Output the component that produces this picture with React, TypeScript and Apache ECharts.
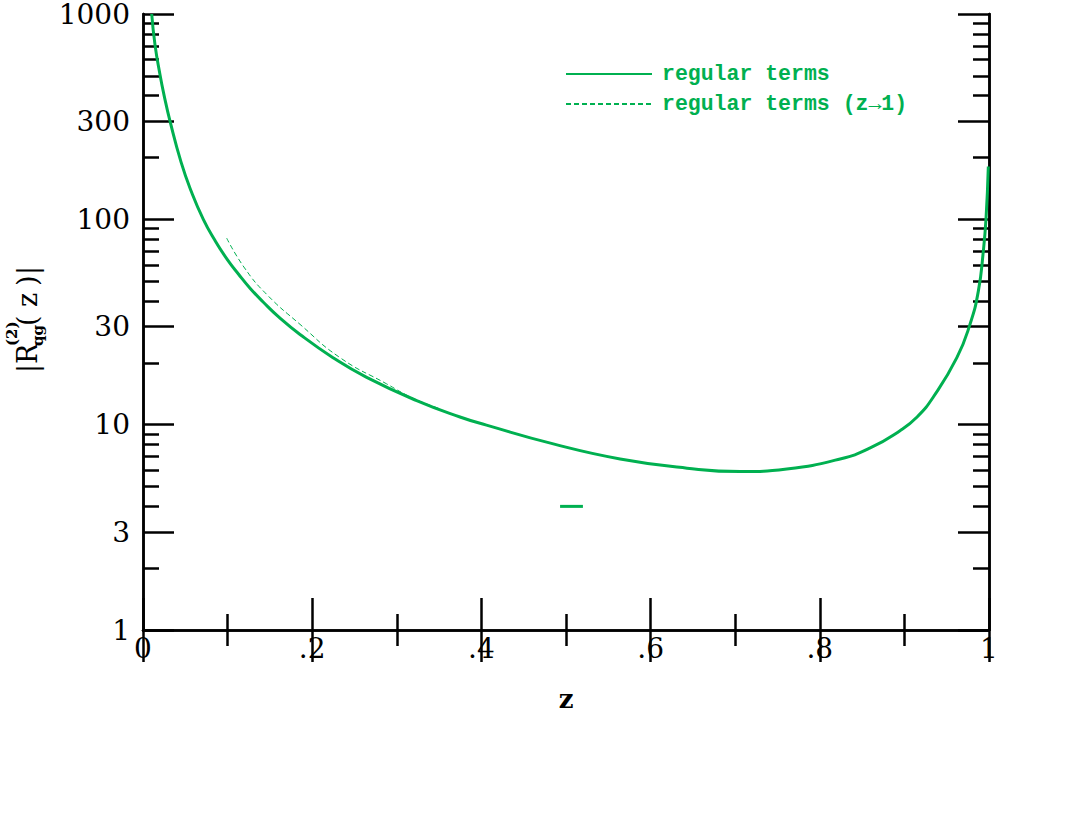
import React, { useEffect, useRef } from "react";
import * as echarts from "echarts";

const GREEN = "#00b050";

// regular terms (solid): z values and |R| values
const Z_MAIN = [0.0103, 0.0142, 0.0201, 0.0248, 0.032, 0.045, 0.057, 0.0713, 0.085, 0.0993, 0.113, 0.1265, 0.142, 0.16, 0.1856, 0.2246, 0.2644, 0.3235, 0.3747, 0.406, 0.485, 0.564, 0.643, 0.706, 0.761, 0.824, 0.859, 0.8948, 0.915, 0.934, 0.962, 0.9775, 0.9874, 0.9933, 0.9965, 0.9992];
const V_MAIN = [1000, 707, 506, 404, 300, 190, 137, 100, 79, 64, 54, 46.2, 39.6, 33.6, 27.5, 21.2, 17.0, 13.1, 10.9, 9.95, 8.06, 6.81, 6.14, 5.91, 6.09, 6.81, 7.68, 9.35, 10.9, 13.6, 21.2, 30.8, 44.7, 70, 101, 181];

// regular terms (z->1) (dashed)
const Z_ASYM = [0.0989, 0.12, 0.1462, 0.1856, 0.2329, 0.288, 0.32, 0.35];
const V_ASYM = [81, 58, 43.1, 30.8, 21.2, 15.8, 13.4, 12.0];

// short stray segment
const Z_SEG = [0.493, 0.52];
const V_SEG = [4, 4];

const Y_MAJOR = [1, 3, 10, 30, 100, 300, 1000];
const Y_MINOR = [2, 4, 5, 6, 7, 8, 9, 20, 40, 50, 60, 70, 80, 90, 200, 400, 500, 600, 700, 800, 900];

const SERIES_NAMES = ["regular terms", "regular terms (z\u21921)"];

const lg = (v: number) => Math.log10(v);
const toPairs = (zs: number[], vs: number[]) => zs.map((z, i) => [z, lg(vs[i])]);

export default function App() {
  const ref = useRef<HTMLDivElement>(null);
  useEffect(() => {
    if (!ref.current) return;
    const chart = echarts.init(ref.current, null, { renderer: "svg" });
    const axisLine = { show: true, lineStyle: { color: "#000", width: 2.5 } };
    const labelFont = { fontFamily: "DejaVu Serif", fontSize: 28, color: "#000", lineHeight: 22 };
    const majorY = Y_MAJOR.map(lg);
    const minorY = Y_MINOR.map(lg);
    const yAxisBase = (pos: string, len: number, vals: number[], labels: boolean) => ({
      type: "value",
      position: pos,
      min: 0,
      max: 3,
      axisLine,
      splitLine: { show: false },
      axisTick: { show: true, inside: true, length: len, customValues: vals, lineStyle: { color: "#000", width: 2.5 } },
      axisLabel: labels
        ? { show: true, customValues: vals, margin: 13, ...labelFont, formatter: (v: number) => String(Math.round(Math.pow(10, v))) }
        : { show: false },
    });
    const xFmt = (v: number) => {
      if (Math.abs(v) < 1e-9) return "0";
      if (Math.abs(v - 1) < 1e-9) return "1";
      return "." + Math.round(v * 10);
    };
    const xAxisBase = (pos: string, labels: boolean) => ({
      type: "value",
      position: pos,
      min: 0,
      max: 1,
      interval: 0.2,
      axisLine,
      splitLine: { show: false },
      axisTick: { show: true, inside: true, length: 32, lineStyle: { color: "#000", width: 2.5 } },
      minorTick: { show: true, splitNumber: 2, length: 16, lineStyle: { color: "#000", width: 2.5 } },
      minorSplitLine: { show: false },
      axisLabel: labels ? { show: true, margin: 7, ...labelFont, formatter: xFmt } : { show: false },
      name: labels ? "z" : "",
      nameLocation: "middle",
      nameGap: 56,
      nameTextStyle: { fontFamily: "DejaVu Serif", fontSize: 26, fontWeight: "bold", color: "#000" },
    });
    const txt = (text: string, x: number, y: number, size: number, bold = false) => ({
      type: "text",
      x,
      y,
      style: {
        text,
        fontFamily: "DejaVu Serif",
        fontSize: size,
        fontWeight: bold ? "bold" : "normal",
        fill: "#000",
        align: "left",
        verticalAlign: "middle",
      },
    });
    chart.setOption({
      animation: false,
      backgroundColor: "#fff",
      grid: { left: 143, top: 12, right: 86, bottom: 200, containLabel: false },
      xAxis: [xAxisBase("bottom", true), xAxisBase("top", false)],
      yAxis: [
        yAxisBase("left", 31, majorY, true),
        yAxisBase("left", 16, minorY, false),
        yAxisBase("right", 31, majorY, false),
        yAxisBase("right", 16, minorY, false),
      ],
      legend: {
        left: 565,
        top: 63,
        padding: 0,
        orient: "vertical",
        itemWidth: 86,
        itemHeight: 20,
        itemGap: 8,
        data: SERIES_NAMES,
        itemStyle: { opacity: 0 },
        textStyle: { fontFamily: "Liberation Mono", fontWeight: "bold", fontSize: 21.5, color: GREEN, lineHeight: 20, padding: [0, 0, 0, 5] },
      },
      graphic: [
        {
          type: "group",
          x: 27,
          y: 373,
          rotation: Math.PI / 2,
          children: [
            txt("|R", 0, 0, 27),
            txt("(2)", 27, -15, 15, true),
            txt("qg", 27, 11, 15, true),
            txt("(", 47, 0, 27),
            txt("z", 66, 0, 27),
            txt(")", 87, 0, 27),
            txt("|", 98, 0, 27),
          ],
        },
      ],
      series: [
        {
          name: SERIES_NAMES[0],
          type: "line",
          data: toPairs(Z_MAIN, V_MAIN),
          symbol: "none",
          smooth: 0.5,
          lineStyle: { color: GREEN, width: 3 },
          itemStyle: { color: GREEN },
          clip: true,
        },
        {
          name: SERIES_NAMES[1],
          type: "line",
          data: toPairs(Z_ASYM, V_ASYM),
          symbol: "none",
          smooth: 0.5,
          lineStyle: { color: GREEN, width: 1, type: [5, 3] },
          itemStyle: { color: GREEN },
        },
        {
          name: "segment",
          type: "line",
          data: toPairs(Z_SEG, V_SEG),
          symbol: "none",
          lineStyle: { color: GREEN, width: 3 },
          itemStyle: { color: GREEN },
        },
      ],
    });
    return () => chart.dispose();
  }, []);
  return <div ref={ref} style={{ position: "fixed", left: 0, top: 0, width: 1075, height: 830, background: "#fff" }} />;
}
